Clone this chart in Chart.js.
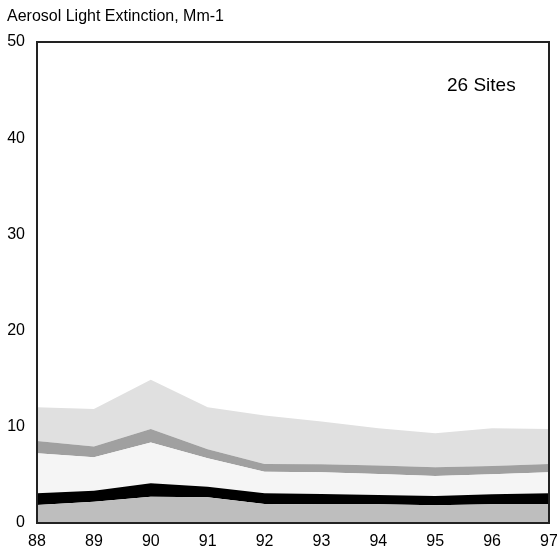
<!DOCTYPE html>
<html>
<head>
<meta charset="utf-8">
<script src="https://cdn.jsdelivr.net/npm/chart.js@4/dist/chart.umd.min.js"></script>
<style>
  html, body { margin: 0; padding: 0; background: #fff; }
  #wrap { width: 557px; height: 550px; }
</style>
</head>
<body>
<div id="wrap"><canvas id="c" width="557" height="550"></canvas></div>
<script>
// Years (19xx) along the bottom axis
const years = ['88', '89', '90', '91', '92', '93', '94', '95', '96', '97'];

// Stacked extinction components, Mm-1 (bottom to top)
const baseLayer   = [1.87, 2.20, 2.74, 2.67, 1.98, 1.94, 1.94, 1.84, 1.94, 1.94];
const blackLayer  = [1.22, 1.16, 1.39, 1.11, 1.11, 1.08, 0.97, 0.97, 1.04, 1.15];
const whiteLayer  = [4.16, 3.47, 4.23, 2.95, 2.25, 2.25, 2.19, 2.08, 2.09, 2.18];
const midLayer    = [1.28, 1.11, 1.42, 0.94, 0.80, 0.83, 0.87, 0.91, 0.86, 0.87];
const topLayer    = [3.51, 3.92, 5.10, 4.37, 5.03, 4.44, 3.88, 3.53, 3.92, 3.64];

const yTicks = [0, 10, 20, 30, 40, 50];
const siteLabel = '26 Sites';
const axisTitle = 'Aerosol Light Extinction, Mm-1';

const FONT = '"Liberation Sans", Arial, sans-serif';

function layer(data, color, fill) {
  return {
    data: data,
    backgroundColor: color,
    borderColor: color,
    borderWidth: 0,
    pointRadius: 0,
    pointHoverRadius: 0,
    tension: 0,
    fill: fill
  };
}

// Frame around the plot plus the free-standing texts
const decorations = {
  id: 'decorations',
  afterDatasetsDraw(chart) {
    const { ctx, chartArea: a } = chart;
    ctx.save();
    ctx.strokeStyle = '#222';
    ctx.lineWidth = 2;
    ctx.strokeRect(a.left, a.top, a.right - a.left, a.bottom - a.top);
    ctx.fillStyle = '#000';
    ctx.textBaseline = 'middle';
    ctx.textAlign = 'left';
    ctx.font = '16px ' + FONT;
    ctx.fillText(axisTitle, 7, 17);
    ctx.font = '19px ' + FONT;
    ctx.fillText(siteLabel, 447, 86);
    ctx.restore();
  }
};

new Chart(document.getElementById('c'), {
  type: 'line',
  data: {
    labels: years,
    datasets: [
      layer(baseLayer, '#bebebe', 'origin'),
      layer(blackLayer, '#000000', '-1'),
      layer(whiteLayer, '#f5f5f5', '-1'),
      layer(midLayer, '#a0a0a0', '-1'),
      layer(topLayer, '#e0e0e0', '-1')
    ]
  },
  options: {
    responsive: false,
    animation: false,
    events: [],
    layout: { padding: { top: 42, right: 8, left: 0, bottom: 0 } },
    plugins: {
      legend: { display: false },
      tooltip: { enabled: false },
      filler: { propagate: false }
    },
    scales: {
      x: {
        offset: false,
        grid: { display: false, drawTicks: false },
        border: { display: false },
        ticks: {
          color: '#000',
          font: { family: FONT, size: 16 },
          padding: 9,
          maxRotation: 0,
          autoSkip: false
        },
        afterFit(scale) {
          scale.height = 27;
          scale.paddingLeft = 0;
          scale.paddingRight = 0;
        }
      },
      y: {
        stacked: true,
        min: 0,
        max: 50,
        grid: { display: false, drawTicks: false },
        border: { display: false },
        afterBuildTicks(scale) { scale.ticks = yTicks.map(v => ({ value: v })); },
        ticks: {
          color: '#000',
          font: { family: FONT, size: 16 },
          padding: 12
        },
        afterFit(scale) {
          scale.width = 37;
          scale.paddingTop = 0;
          scale.paddingBottom = 0;
        }
      }
    }
  },
  plugins: [decorations]
});
</script>
</body>
</html>
